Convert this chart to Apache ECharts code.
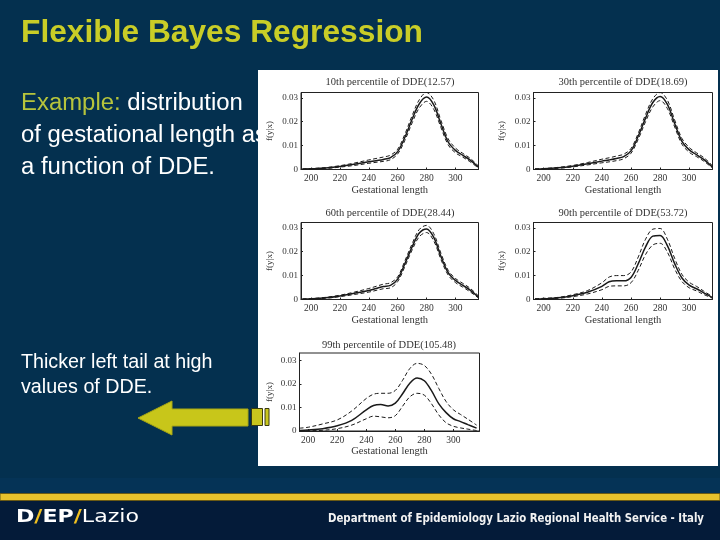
<!DOCTYPE html>
<html><head><meta charset="utf-8">
<script src="https://cdn.jsdelivr.net/npm/echarts@6/dist/echarts.min.js"></script>
<style>html,body{margin:0;padding:0;background:#04304f}#c{width:720px;height:540px}</style>
</head><body><div id="c"></div>
<script>
// ---- data ----
const gestLength = [194,200,210,220,230,240,245,250,255,260,265,270,275,280,285,290,295,300,305,310,316];
const xTicks = [200,220,240,260,280,300];
const yTicks = [0,0.01,0.02,0.03];
const panelTitles = ['10th percentile of DDE(12.57)','30th percentile of DDE(18.69)','60th percentile of DDE(28.44)','90th percentile of DDE(53.72)','99th percentile of DDE(105.48)'];

const p10Mean  = [0.0002,0.0003,0.0006,0.0013,0.0022,0.0032,0.0037,0.0042,0.0050,0.0075,0.0135,0.0210,0.0275,0.0303,0.0270,0.0190,0.0115,0.0080,0.0060,0.0040,0.0010];
const p10Upper = [0.0002,0.0004,0.0008,0.0016,0.0027,0.0040,0.0046,0.0052,0.0060,0.0085,0.0148,0.0225,0.0292,0.0322,0.0290,0.0205,0.0128,0.0090,0.0068,0.0048,0.0015];
const p10Lower = [0.0001,0.0002,0.0004,0.0010,0.0017,0.0026,0.0030,0.0034,0.0041,0.0065,0.0122,0.0195,0.0258,0.0285,0.0252,0.0175,0.0103,0.0070,0.0052,0.0033,0.0006];

const p30Mean  = [0.0002,0.0003,0.0007,0.0014,0.0024,0.0035,0.0040,0.0046,0.0054,0.0078,0.0140,0.0215,0.0280,0.0305,0.0272,0.0192,0.0118,0.0082,0.0062,0.0042,0.0010];
const p30Upper = [0.0002,0.0004,0.0009,0.0017,0.0029,0.0043,0.0049,0.0056,0.0064,0.0088,0.0152,0.0230,0.0296,0.0322,0.0290,0.0207,0.0130,0.0092,0.0070,0.0050,0.0016];
const p30Lower = [0.0001,0.0002,0.0005,0.0011,0.0019,0.0028,0.0032,0.0037,0.0045,0.0068,0.0127,0.0200,0.0262,0.0288,0.0255,0.0178,0.0106,0.0072,0.0054,0.0035,0.0006];

const p60Mean  = [0.0002,0.0003,0.0007,0.0015,0.0026,0.0038,0.0046,0.0054,0.0059,0.0085,0.0150,0.0220,0.0278,0.0295,0.0260,0.0180,0.0112,0.0080,0.0060,0.0040,0.0010];
const p60Upper = [0.0002,0.0004,0.0009,0.0018,0.0031,0.0046,0.0055,0.0064,0.0070,0.0095,0.0162,0.0233,0.0293,0.0310,0.0275,0.0193,0.0122,0.0088,0.0068,0.0048,0.0015];
const p60Lower = [0.0001,0.0002,0.0005,0.0012,0.0021,0.0031,0.0038,0.0045,0.0049,0.0075,0.0138,0.0207,0.0263,0.0280,0.0245,0.0167,0.0102,0.0071,0.0052,0.0033,0.0006];

const p90Mean  = [0.0002,0.0003,0.0007,0.0016,0.0030,0.0055,0.0074,0.0078,0.0078,0.0092,0.0150,0.0220,0.0265,0.0268,0.0225,0.0150,0.0090,0.0060,0.0045,0.0028,0.0008];
const p90Upper = [0.0003,0.0005,0.0009,0.0020,0.0037,0.0070,0.0094,0.0100,0.0100,0.0115,0.0178,0.0252,0.0294,0.0297,0.0252,0.0172,0.0105,0.0072,0.0055,0.0035,0.0012];
const p90Lower = [0.0001,0.0002,0.0005,0.0012,0.0023,0.0041,0.0055,0.0057,0.0057,0.0070,0.0122,0.0188,0.0228,0.0235,0.0198,0.0128,0.0075,0.0049,0.0036,0.0021,0.0005];

const p99Mean  = [0.0002,0.0004,0.0010,0.0022,0.0045,0.0090,0.0108,0.0112,0.0106,0.0118,0.0158,0.0203,0.0225,0.0213,0.0170,0.0115,0.0078,0.0052,0.0040,0.0027,0.0012];
const p99Upper = [0.0012,0.0016,0.0030,0.0047,0.0085,0.0138,0.0156,0.0160,0.0160,0.0172,0.0215,0.0265,0.0287,0.0278,0.0240,0.0180,0.0125,0.0090,0.0070,0.0050,0.0025];
const p99Lower = [0.0000,0.0001,0.0003,0.0010,0.0025,0.0052,0.0063,0.0060,0.0056,0.0065,0.0105,0.0145,0.0160,0.0152,0.0115,0.0068,0.0035,0.0020,0.0013,0.0008,0.0002];

const panels = [
  {mean:p10Mean, upper:p10Upper, lower:p10Lower},
  {mean:p30Mean, upper:p30Upper, lower:p30Lower},
  {mean:p60Mean, upper:p60Upper, lower:p60Lower},
  {mean:p90Mean, upper:p90Upper, lower:p90Lower},
  {mean:p99Mean, upper:p99Upper, lower:p99Lower}
];

// ---- layout / styling ----
const layout = [
  {left:301, top:92.5, width:177.5, height:77, xmin:193, xmax:316, ymax:0.0322, tx:390, ty:82, nx:270},
  {left:533.5, top:92.5, width:179, height:77, xmin:193, xmax:316, ymax:0.0322, tx:623, ty:82, nx:502},
  {left:301, top:222.5, width:177.5, height:77, xmin:193, xmax:316, ymax:0.0322, tx:390, ty:213, nx:270},
  {left:533.5, top:222.5, width:179, height:77, xmin:193, xmax:316, ymax:0.0322, tx:623, ty:213, nx:502},
  {left:299.5, top:353, width:180, height:78, xmin:194, xmax:318, ymax:0.0331, tx:389, ty:345, nx:270}
];
const serif = "'Liberation Serif', 'DejaVu Serif', serif";
const sans = "'Liberation Sans', Arial, sans-serif";
const ink = '#1a1a1a';

const ctx = document.createElement('canvas').getContext('2d');
function widthOf(text, font){ ctx.font = font; return ctx.measureText(text).width; }
function fitSize(text, weight, family, target){ return 20 * target / widthOf(text, weight + ' 20px ' + family); }

const grids=[], xAxes=[], yAxes=[], series=[];
layout.forEach((L,i)=>{
  grids.push({left:L.left, top:L.top, width:L.width, height:L.height, show:true, borderColor:'#222', borderWidth:1, backgroundColor:'transparent', z:3});
  xAxes.push({gridIndex:i, type:'value', min:L.xmin, max:L.xmax, z:3,
    axisLine:{show:true, onZero:false, lineStyle:{color:'#222', width:1}},
    axisTick:{show:true, inside:true, length:2, customValues:xTicks, lineStyle:{color:'#222'}},
    axisLabel:{customValues:xTicks, fontSize:9.5, fontFamily:serif, color:'#333', margin:4},
    splitLine:{show:false},
    name:'Gestational length', nameLocation:'middle', nameGap:14,
    nameTextStyle:{fontSize:10.5, fontFamily:serif, color:'#333'}});
  yAxes.push({gridIndex:i, type:'value', min:0, max:L.ymax, z:3,
    axisLine:{show:true, lineStyle:{color:'#222', width:1}},
    axisTick:{show:true, inside:true, length:2, customValues:yTicks, lineStyle:{color:'#222'}},
    axisLabel:{customValues:yTicks, fontSize:9, fontFamily:serif, color:'#333', margin:3,
      formatter:v=> v===0 ? '0' : v.toFixed(2)},
    splitLine:{show:false},
    name:'f(y|x)', nameLocation:'middle', nameRotate:90, nameGap:L.left - L.nx - 4,
    nameTextStyle:{fontSize:9, fontFamily:serif, color:'#333'}});
  const P = panels[i];
  const mk = (arr)=> gestLength.map((g,k)=>[g, arr[k]]);
  series.push({type:'line', xAxisIndex:i, yAxisIndex:i, data:mk(P.upper), smooth:0.35, symbol:'none', z:4,
    lineStyle:{color:ink, width:1, type:[4,2.5]}});
  series.push({type:'line', xAxisIndex:i, yAxisIndex:i, data:mk(P.lower), smooth:0.35, symbol:'none', z:4,
    lineStyle:{color:ink, width:1, type:[4,2.5]}});
  series.push({type:'line', xAxisIndex:i, yAxisIndex:i, data:mk(P.mean), smooth:0.35, symbol:'none', z:5,
    lineStyle:{color:ink, width:1.5}});
});

const titleText = 'Flexible Bayes Regression';
const titleSize = fitSize(titleText, 'bold', sans, 402);
const bodySize = fitSize('Example: distribution', 'normal', sans, 222);
const noteSize = fitSize('Thicker left tail at high', 'normal', sans, 191.5);
const bodyFont = bodySize.toFixed(2)+'px '+sans;
const noteFont = noteSize.toFixed(2)+'px '+sans;
const exW = widthOf('Example: ', bodyFont);

const footerText = 'Department of Epidemiology Lazio Regional Health Service - Italy';
const footerFont = "bold 12.5px 'DejaVu Sans', sans-serif";
const footerScale = 376 / widthOf(footerText, footerFont);
const logoFontB = "bold 17px 'DejaVu Sans', sans-serif";
const logoFontL = "17px 'DejaVu Sans', sans-serif";
const logoW = widthOf('D', logoFontB) + widthOf('/', logoFontB)*2 + widthOf('EP', logoFontB) + widthOf('Lazio', logoFontL);
const logoScale = 123 / logoW;

const graphics = [
  // footer
  {type:'rect', shape:{x:0, y:478, width:720, height:16}, style:{fill:'#053356'}, z:-20},
  {type:'rect', shape:{x:0, y:493.5, width:720, height:7}, style:{fill:'#e8c22c', stroke:'#6b5a14', lineWidth:1}, z:-19},
  {type:'rect', shape:{x:0, y:501, width:720, height:39}, style:{fill:'#041b39'}, z:-19},
  {type:'text', x:16, y:518, scaleX:logoScale, z:-18, style:{
    text:'{b|D}{s|/}{b|EP}{s|/}{l|Lazio}', verticalAlign:'middle',
    rich:{ b:{font:logoFontB, fill:'#ffffff'}, s:{font:logoFontB, fill:'#f0c020'}, l:{font:logoFontL, fill:'#ffffff'} }}},
  {type:'text', x:328, y:519, scaleX:footerScale, z:-18, style:{text:footerText, font:footerFont, fill:'#f2f2f2', verticalAlign:'middle'}},
  // title and body text
  {type:'text', x:21, y:33, z:-18, style:{text:titleText, font:'bold '+titleSize.toFixed(2)+'px '+sans, fill:'#c9cd27', verticalAlign:'middle'}},
  {type:'text', x:21, y:103, z:-18, style:{text:'Example:', font:bodyFont, fill:'#b6c43c', verticalAlign:'middle'}},
  {type:'text', x:21+exW, y:103, z:-18, style:{text:'distribution', font:bodyFont, fill:'#ffffff', verticalAlign:'middle'}},
  {type:'text', x:21, y:135, z:-18, style:{text:'of gestational length as', font:bodyFont, fill:'#ffffff', verticalAlign:'middle'}},
  {type:'text', x:21, y:167, z:-18, style:{text:'a function of DDE.', font:bodyFont, fill:'#ffffff', verticalAlign:'middle'}},
  {type:'text', x:21, y:363, z:-18, style:{text:'Thicker left tail at high', font:noteFont, fill:'#ffffff', verticalAlign:'middle'}},
  {type:'text', x:21, y:388, z:-18, style:{text:'values of DDE.', font:noteFont, fill:'#ffffff', verticalAlign:'middle'}},
  // white figure panel
  {type:'rect', shape:{x:258, y:70, width:460, height:396}, style:{fill:'#ffffff'}, z:-5},
  // arrow
  {type:'polygon', shape:{points:[[138,418],[172,401],[172,409],[248,409],[248,426],[172,426],[172,435]]},
    style:{fill:'#c8c61a', stroke:'#a8a614', lineWidth:1}, z:8},
  {type:'rect', shape:{x:251.5, y:408.5, width:11, height:17}, style:{fill:'#c8c61e', stroke:'#3a3a10', lineWidth:1}, z:8},
  {type:'rect', shape:{x:265, y:408.5, width:4, height:17}, style:{fill:'#c8c61e', stroke:'#3a3a10', lineWidth:1}, z:8}
];
layout.forEach((L,i)=>{
  graphics.push({type:'text', x:L.tx, y:L.ty, z:6, style:{text:panelTitles[i], font:'10.5px '+serif, fill:'#333', align:'center', verticalAlign:'middle'}});
});

const chart = echarts.init(document.getElementById('c'), null, {renderer:'canvas'});
chart.setOption({
  animation:false,
  backgroundColor:'#04304f',
  grid:grids, xAxis:xAxes, yAxis:yAxes, series:series,
  graphic:{elements:graphics}
});
</script></body></html>
